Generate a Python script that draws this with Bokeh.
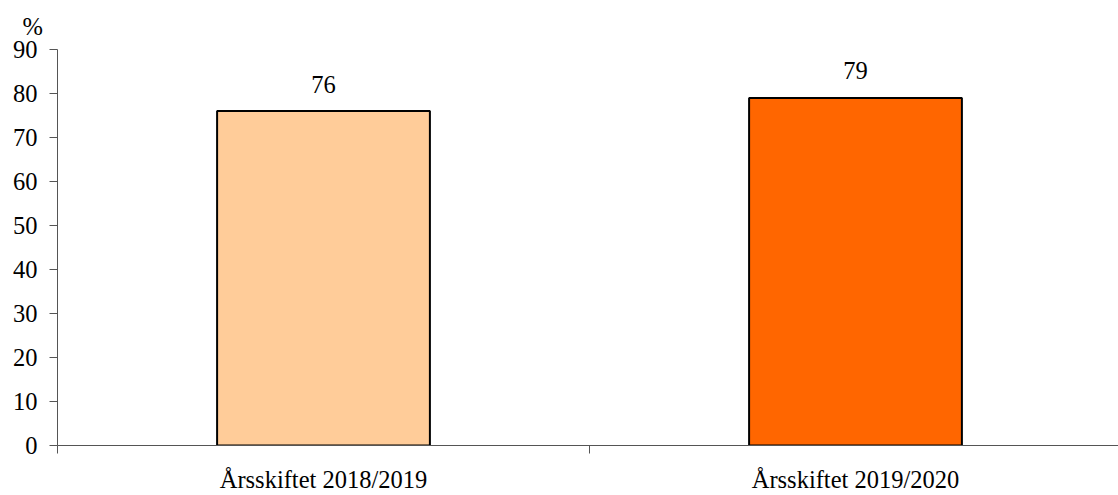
from bokeh.plotting import figure
from bokeh.models import Range1d, FixedTicker, LabelSet, ColumnDataSource
from bokeh.embed import file_html
from bokeh.resources import INLINE

categories = ["Årsskiftet 2018/2019", "Årsskiftet 2019/2020"]
values = [76, 79]
colors = ["#FFCC99", "#FF6600"]
yticks = [0, 10, 20, 30, 40, 50, 60, 70, 80, 90]
unit_label = "%"

FONT = "Liberation Serif"
FS = "24.5px"
AXIS_COLOR = "#555555"

centers = [i + 0.5 for i in range(len(categories))]
src = ColumnDataSource(dict(x=centers, top=values, color=colors,
                            label=[str(v) for v in values]))

p = figure(width=1118, height=495,
           x_range=Range1d(0, 1061 / 532), y_range=Range1d(0, 90),
           output_backend="svg", toolbar_location=None,
           min_border_left=57, min_border_right=0, min_border_top=49,
           min_border_bottom=50, title=unit_label)
p.outline_line_color = None
p.grid.visible = False

p.title.align = "left"
p.title.offset = -35
p.title.standoff = 20
p.title.text_font = FONT
p.title.text_font_size = FS
p.title.text_font_style = "normal"
p.title.text_color = "black"

p.vbar(x="x", top="top", width=0.4, fill_color="color", line_color="black",
       line_width=2, source=src)

p.add_layout(LabelSet(x="x", y="top", text="label", source=src, y_offset=27,
                      text_align="center", text_baseline="middle",
                      text_font=FONT, text_font_size=FS, text_color="black"))

xa = p.xaxis[0]
xa.ticker = FixedTicker(ticks=centers, minor_ticks=list(range(len(categories) + 1)))
xa.major_label_overrides = {c: lab for c, lab in zip(centers, categories)}
xa.major_tick_out = 0
xa.major_tick_in = 0
xa.minor_tick_out = 8
xa.minor_tick_in = 0
xa.minor_tick_line_color = AXIS_COLOR
xa.axis_line_color = AXIS_COLOR
xa.major_label_standoff = 12
xa.major_label_text_font = FONT
xa.major_label_text_font_size = FS
xa.major_label_text_color = "black"

ya = p.yaxis[0]
ya.ticker = FixedTicker(ticks=yticks, minor_ticks=[])
ya.major_tick_out = 8
ya.major_tick_in = 0
ya.minor_tick_out = 0
ya.minor_tick_in = 0
ya.major_tick_line_color = AXIS_COLOR
ya.axis_line_color = AXIS_COLOR
ya.major_label_standoff = 12
ya.major_label_text_font = FONT
ya.major_label_text_font_size = FS
ya.major_label_text_color = "black"

open("out.html", "w").write(file_html(p, INLINE))
